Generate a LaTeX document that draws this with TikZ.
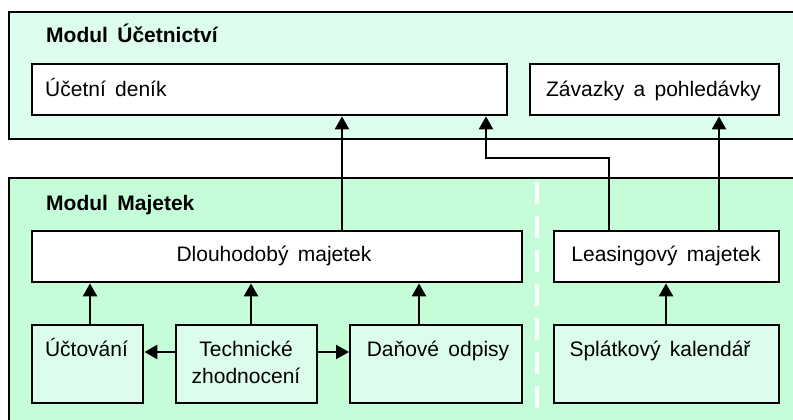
\documentclass[tikz,border=0pt]{standalone}
\usepackage{fontspec}
\setmainfont{Liberation Sans}[WordSpace=1.6]
\usetikzlibrary{arrows.meta}
\definecolor{topfill}{RGB}{221,253,238}
\definecolor{botfill}{RGB}{196,253,216}
\definecolor{lightbox}{RGB}{221,253,236}
\tikzset{
  modbox/.style={draw=black, line width=2.4pt, anchor=north west, inner sep=0pt},
  whitebox/.style={draw=black, fill=white, line width=2.4pt, anchor=north west, inner sep=0pt},
  greenbox/.style={draw=black, fill=lightbox, line width=2.4pt, anchor=north west, inner sep=0pt},
  lbl/.style={font=\fontsize{21}{26}\selectfont, inner sep=0pt, anchor=base},
  title/.style={font=\fontsize{21}{26}\selectfont\bfseries, inner sep=0pt, anchor=base west},
  arr/.style={line width=2.4pt, -{Triangle[length=13pt,width=14pt]}}
}
\begin{document}
\begin{tikzpicture}[x=1pt,y=-1pt]
\useasboundingbox (0,0) rectangle (793,420);
\fill[white] (0,0) rectangle (793,420);
% modules
\node[modbox, fill=topfill, minimum width=800pt, minimum height=127pt] (mu) at (8,11) {};
\node[modbox, fill=botfill, minimum width=800pt, minimum height=260pt] (mm) at (8,177) {};
\draw[white, line width=4.5pt, dash pattern=on 22pt off 12pt] (537,182) -- (537,425);
\node[title] (tu) at (46,43) {Modul Účetnictví};
\node[title] (tm) at (46,210) {Modul Majetek};
% boxes
\node[whitebox, minimum width=475pt, minimum height=51pt] (ud) at (31,63) {};
\node[whitebox, minimum width=249pt, minimum height=51pt] (zp) at (529,63) {};
\node[whitebox, minimum width=490pt, minimum height=51pt] (dm) at (31,230) {};
\node[whitebox, minimum width=225pt, minimum height=51pt] (lm) at (553,230) {};
\node[greenbox, minimum width=111pt, minimum height=78pt] (uc) at (31,324) {};
\node[greenbox, minimum width=141pt, minimum height=78pt] (tz) at (175,324) {};
\node[greenbox, minimum width=172pt, minimum height=78pt] (do) at (349,324) {};
\node[greenbox, minimum width=225pt, minimum height=78pt] (sk) at (553,324) {};
% labels
\node[lbl, anchor=base west] (tud) at (45,96.5) {Účetní deník};
\node[lbl] (tzp) at (653.5,96.5) {Závazky a pohledávky};
\node[lbl] (tdm) at (274,261.7) {Dlouhodobý majetek};
\node[lbl] (tlm) at (666,261.7) {Leasingový majetek};
\node[lbl] (tuc) at (86.5,356.7) {Účtování};
\node[lbl] (ttz1) at (246,356.7) {Technické};
\node[lbl] (ttz2) at (246,383) {zhodnocení};
\node[lbl] (tdo) at (438,356.7) {Daňové odpisy};
\node[lbl] (tsk) at (660,356.7) {Splátkový kalendář};
% connector x positions
\coordinate (c1) at (342,0);
\coordinate (c2) at (486,158);
\coordinate (c3) at (609,158);
\coordinate (c4) at (719,0);
\coordinate (c5) at (90,0);
\coordinate (c6) at (251,0);
\coordinate (c7) at (419,0);
\coordinate (c8) at (666,0);
\coordinate (ry) at (0,352);
% connectors
\draw[arr] (dm.north -| c1) -- (ud.south -| c1);
\draw[arr] (lm.north -| c3) -- (c3) -- (c2) -- (ud.south -| c2);
\draw[arr] (lm.north -| c4) -- (zp.south -| c4);
\draw[arr] (uc.north -| c5) -- (dm.south -| c5);
\draw[arr] (tz.north -| c6) -- (dm.south -| c6);
\draw[arr] (do.north -| c7) -- (dm.south -| c7);
\draw[arr] (sk.north -| c8) -- (lm.south -| c8);
\draw[arr] (tz.west |- ry) -- (uc.east |- ry);
\draw[arr] (tz.east |- ry) -- (do.west |- ry);
\end{tikzpicture}
\end{document}
